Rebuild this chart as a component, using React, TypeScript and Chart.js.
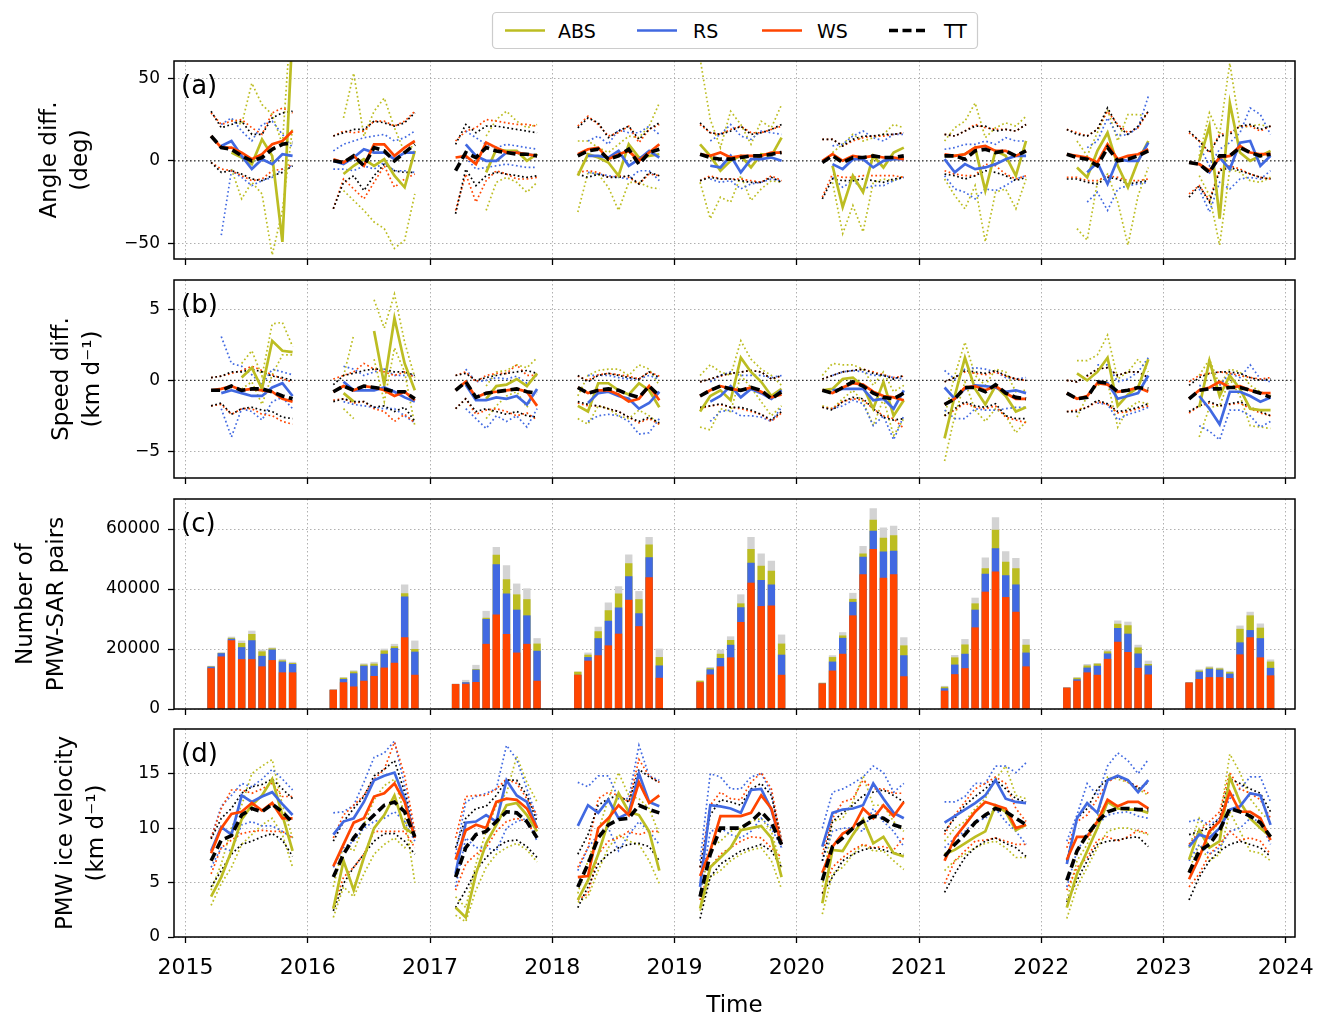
import React, { useEffect, useRef } from 'react';
import { Chart, registerables } from 'chart.js';
Chart.register(...registerables);

const FONT = "'DejaVu Sans', 'Liberation Sans', sans-serif";
const C_ABS = '#bcbd22';
const C_RS = '#4169e1';
const C_WS = '#ff4500';
const C_TT = '#000000';
const C_OTHER = '#d3d3d3';
const GRID = '#b0b0b0';

const YEARS = [2015, 2016, 2017, 2018, 2019, 2020, 2021, 2022, 2023];
const MONTHS = [3, 4, 5, 6, 7, 8, 9, 10, 11];
const X_TICKS = [2015, 2016, 2017, 2018, 2019, 2020, 2021, 2022, 2023, 2024];
const ANGLE_TICKS = [-50, 0, 50];
const SPEED_TICKS = [-5, 0, 5];
const PAIRS_TICKS = [0, 20000, 40000, 60000];
const VEL_TICKS = [0, 5, 10, 15];

type Row = (number | null)[];

// ---------- (a) angle difference (deg) ----------
const angleTT: Row[] = [
  [15, 8, 7, 3, 0, 2, 7, 10, 11],
  [0, -1, 3, -3, 8, 6, 0, 5, 10],
  [-6, 5, 2, 8, 6, 5, 4, 4, 3],
  [3, 6, 7, 1, 3, 7, -2, 5, 7],
  [4, 2, 1, 1, 2, 3, 3, 4, 5],
  [-1, 3, -1, 2, 2, 3, 2, 2, 3],
  [3, 3, 1, 6, 7, 5, 6, 3, 6],
  [4, 2, 1, -3, 8, 0, 1, 3, 6],
  [-1, -2, -7, 3, 3, 8, 5, 3, 4],
];
const angleWS: Row[] = [
  [15, 8, 8, 5, 1, 4, 10, 12, 18],
  [1, -1, 3, -3, 10, 10, 3, 8, 12],
  [2, 3, -2, 11, 8, 5, 5, 4, 3],
  [4, 7, 8, 1, 4, 6, 0, 5, 10],
  [4, 3, 5, 2, 3, 3, 3, 5, 5],
  [0, 4, 0, 3, 2, 3, 2, 2, 1],
  [4, 3, 4, 8, 9, 6, 6, 3, 6],
  [4, 3, 2, -1, 10, 1, 3, 4, 7],
  [-1, -2, -6, 2, 3, 9, 5, 4, 4],
];
const angleRS: Row[] = [
  [null, 9, 12, 3, -5, 1, -2, 4, 3],
  [0, -2, 2, 7, 5, 5, 1, 5, 5],
  [null, 10, 3, 0, 0, 5, 5, 4, 3],
  [null, 3, 3, 2, 6, -3, 1, 6, 2],
  [null, -3, -4, 3, -7, 1, 1, 2, 0],
  [null, -2, -5, 1, 1, -4, 0, 1, 1],
  [1, -7, -2, -5, -4, -2, 1, 3, 3],
  [null, null, -7, -1, -14, 1, 0, 0, 11],
  [null, -2, -7, 2, -5, 11, 12, -3, 3],
];
const angleABS: Row[] = [
  [null, null, 5, 2, -2, 13, 3, -49, 80],
  [null, -8, -3, 1, -3, 1, -9, -16, 6],
  [null, null, null, -7, 7, 6, 6, 0, 4],
  [-9, 4, 2, -1, -9, 10, 2, 3, 4],
  [10, 3, -6, 0, 3, -4, 4, 3, 14],
  [null, -3, -28, -9, -19, 3, -4, 5, 8],
  [3, 3, 4, 8, -18, 6, 3, -9, 12],
  [null, -4, -10, 6, 17, -3, -16, 0, 12],
  [null, 0, 21, -35, 35, 5, 0, 3, 6],
];
const angleTTHi: Row[] = [
  [30, 20, 22, 24, 16, 16, 26, 29, 30],
  [15, 17, 19, 19, 24, 23, 21, 23, 29],
  [10, 22, 17, 21, 21, 20, 19, 18, 17],
  [20, 26, 23, 14, 18, 21, 13, 19, 23],
  [23, 17, 16, 18, 21, 16, 17, 19, 22],
  [13, 13, 9, 13, 15, 15, 16, 16, 17],
  [16, 15, 18, 21, 21, 18, 19, 18, 22],
  [19, 16, 15, 19, 32, 21, 16, 21, 30],
  [18, 12, 5, 15, 16, 21, 22, 19, 21],
];
const angleTTLo: Row[] = [
  [-1, -7, -6, -8, -11, -12, -9, -7, -3],
  [-29, -13, -9, -18, -9, -2, -6, -7, -7],
  [-32, -5, -15, -9, -7, -8, -9, -10, -9],
  [-8, -10, -8, -10, -10, -9, -14, -7, -9],
  [-12, -10, -11, -11, -12, -13, -13, -10, -13],
  [-23, -11, -12, -12, -11, -12, -13, -11, -10],
  [-8, -9, -11, -9, -6, -7, -9, -12, -10],
  [-11, -11, -13, -14, -10, -11, -14, -13, -12],
  [-22, -15, -25, -6, -4, -6, -8, -10, -11],
];
const angleWSHi: Row[] = [
  [29, 22, 24, 25, 20, 16, 29, 32, 29],
  [15, 18, 17, 18, 24, 24, 21, 24, 30],
  [12, 18, 20, 25, 24, 23, 22, 22, 21],
  [21, 27, 22, 15, 17, 21, 11, 19, 22],
  [22, 17, 16, 19, 21, 17, 17, 19, 21],
  [13, 13, 9, 12, 14, 15, 15, 16, 17],
  [16, 15, 18, 22, 20, 19, 19, 18, 22],
  [19, 17, 15, 19, 30, 22, 17, 20, 30],
  [17, 12, 5, 16, 17, 21, 21, 18, 21],
];
const angleWSLo: Row[] = [
  [-1, -5, -6, -9, -12, -11, -6, -5, -2],
  [-29, -11, -17, -23, -13, -3, -16, -11, -8],
  [-30, -8, -25, -12, -6, -8, -11, -11, -10],
  [-7, -6, -7, -10, -9, -10, -14, -8, -9],
  [-12, -9, -11, -11, -11, -12, -13, -9, -12],
  [-22, -8, -10, -10, -9, -9, -9, -9, -10],
  [-6, -8, -9, -9, -2, -3, -8, -11, -9],
  [-10, -10, -12, -12, -9, -10, -12, -12, -11],
  [-20, -15, -24, -5, -3, -5, -8, -10, -11],
];
const angleRSHi: Row[] = [
  [null, 22, 26, 18, 12, 22, 24, 16, 8],
  [6, 10, 12, 14, 15, 16, 12, 14, 18],
  [null, 18, 14, 10, 8, 10, 9, 8, 7],
  [null, 12, 15, 10, 19, 17, 17, 21, 16],
  [null, 12, 16, 22, 15, 13, 18, 17, 16],
  [null, 9, 10, 15, 18, 14, 12, 16, 16],
  [7, 8, 10, 10, 12, 10, 14, 12, 12],
  [null, null, 8, 12, 26, 15, 16, 20, 39],
  [null, 9, -3, 7, 11, 17, 32, 28, 16],
];
const angleRSLo: Row[] = [
  [null, -45, -6, -10, -15, -12, -10, -5, -3],
  [-5, -5, -6, -3, -5, -1, -6, -6, -7],
  [null, 2, -5, -4, -3, -2, -3, -4, -4],
  [null, -7, -8, -9, -10, -11, -6, -6, -12],
  [null, -11, -13, -12, -17, -14, -13, -11, -12],
  [null, -10, -16, -12, -17, -15, -15, -12, -10],
  [-9, -17, -19, -23, -17, -18, -15, -11, -9],
  [null, null, -25, -19, -30, -17, -15, -14, -13],
  [null, -17, -31, -13, -17, -11, -10, -11, -6],
];
const angleABSHi: Row[] = [
  [null, null, 25, 22, 47, 34, 28, 10, 100],
  [null, 26, 53, 15, 30, 38, 20, 5, 10],
  [null, null, null, 15, 25, 30, 24, 20, 22],
  [12, 12, 8, 5, 10, 15, 14, 21, 35],
  [62, 25, 8, 30, 22, 10, 24, 20, 34],
  [null, 5, 10, 16, 12, 14, 16, 22, 20],
  [12, 20, 24, 35, 14, 20, 23, 21, 27],
  [null, 12, 3, 17, 31, 12, 28, 28, 27],
  [null, 3, 29, 16, 59, 20, 21, 22, 20],
];
const angleABSLo: Row[] = [
  [null, null, -5, -23, -13, -20, -57, -30, 20],
  [null, -18, -24, -30, -37, -41, -53, -48, -20],
  [null, null, null, -30, -13, -10, -13, -19, -13],
  [-31, -7, -8, -16, -30, -13, -13, -16, -17],
  [-13, -35, -22, -25, -9, -24, -17, -12, -13],
  [null, -13, -44, -27, -43, -13, -11, -12, -9],
  [-11, -21, -29, -15, -49, -19, -17, -29, -11],
  [null, -41, -48, -13, -8, -25, -51, -21, -4],
  [null, -9, -21, -51, -5, -7, -12, -13, -10],
];

// ---------- (b) speed difference (km/d) ----------
const speedTT: Row[] = [
  [-0.7, -0.7, -0.4, -0.7, -0.6, -0.6, -0.8, -1.1, -1.3],
  [-0.8, -0.4, -0.7, -0.4, -0.5, -0.6, -0.8, -0.8, -1.3],
  [-0.7, -0.1, -1.2, -0.9, -0.8, -0.7, -0.6, -0.8, -0.9],
  [-0.5, -0.9, -0.7, -0.6, -0.7, -1.0, -1.2, -0.4, -1.1],
  [-1.1, -0.7, -0.4, -0.6, -0.7, -0.5, -0.7, -1.3, -0.8],
  [-0.7, -0.9, -0.5, -0.1, -0.4, -0.9, -1.2, -1.3, -0.9],
  [-1.7, -1.3, -0.5, -0.5, -0.8, -0.3, -0.9, -1.2, -1.3],
  [-0.9, -1.3, -1.2, -0.1, -0.2, -0.8, -0.7, -0.5, -0.6],
  [-1.3, -0.7, -0.6, -0.6, -0.5, -0.5, -0.7, -0.9, -1.2],
];
const speedWS: Row[] = [
  [-0.7, -0.6, -0.4, -0.7, -0.6, -0.7, -0.8, -1.3, -1.5],
  [-0.8, -0.4, -0.7, -0.4, -0.5, -0.7, -1.1, -0.8, -1.4],
  [-0.7, -0.1, -1.2, -0.9, -0.8, -0.7, -0.6, -0.8, -1.8],
  [-0.5, -0.9, -0.7, -0.7, -1.0, -1.5, -1.3, -0.4, -1.4],
  [-1.1, -0.7, -0.4, -0.6, -0.7, -0.5, -0.8, -1.2, -1.0],
  [-0.7, -0.9, -0.5, -0.2, -0.3, -0.8, -1.1, -1.2, -1.4],
  [-1.7, -1.3, -0.5, -0.4, -0.7, -0.4, -0.9, -1.3, -1.3],
  [-0.9, -1.3, -1.1, -0.2, -0.3, -0.8, -0.7, -0.5, -0.8],
  [-1.3, -0.7, -0.5, -0.1, -0.5, -0.4, -0.7, -0.9, -0.9],
];
const speedRS: Row[] = [
  [null, -0.9, -0.7, -0.9, -1.1, -1.1, -0.5, -0.2, -1.1],
  [null, -0.1, -0.7, -0.7, -0.7, -0.5, -0.8, -1.2, -1.5],
  [null, -0.3, -1.4, -1.4, -1.2, -1.3, -1.1, -1.7, -0.6],
  [null, -1.6, -0.9, -0.8, -1.1, -1.3, -2.0, -1.6, -0.8],
  [null, -1.5, -1.1, -0.4, -1.2, -0.6, -0.9, -1.3, -0.7],
  [null, -0.7, -0.6, -0.6, -0.6, -1.4, -1.3, -2.0, -0.7],
  [-0.5, -1.3, -0.6, -0.35, -0.4, -0.5, -0.8, -0.7, -0.9],
  [null, null, null, -0.1, -0.2, -1.3, -1.1, -0.9, 0.35],
  [null, -1.1, -2.0, -3.1, -0.8, -0.8, -1.1, -1.5, -1.2],
];
const speedABS: Row[] = [
  [null, null, null, 0.2, 0.9, -0.6, 2.8, 2.1, 2.0],
  [null, -0.9, -1.5, null, 3.5, -0.3, 4.4, 1.2, -0.7],
  [null, null, null, -1.3, -0.4, -0.3, 0.1, -0.4, 0.5],
  [-1.8, -2.2, -0.2, -0.2, -0.7, -1.0, -0.2, -0.7, -1.9],
  [-2.2, -1.1, -0.7, -1.4, 1.6, 0.6, -0.1, -1.1, -0.6],
  [-0.7, -0.6, 0.1, 0.2, -0.4, -2.0, -0.1, -2.5, -1.4],
  [-4.1, -1.1, 1.6, -0.6, -1.7, -0.4, -1.1, -2.2, -1.9],
  [null, 0.5, 0, 0.6, 1.6, -1.8, -1.0, -0.5, 1.5],
  [null, -1.9, 1.4, -1.1, 0.35, -0.6, -2.0, -2.1, -2.1],
];
const speedTTHi: Row[] = [
  [0.2, 0.3, 0.6, 0.6, 0.8, 0.6, 0.3, 0.2, 0],
  [-0.3, 0.35, 0.5, 0.7, 0.8, 0.8, 0.6, 0.6, 0.35],
  [0.35, 0.5, 0, 0.2, 0.35, 0.5, 0.6, 0.7, 0.5],
  [0.35, -0.1, 0.35, 0.5, 0.35, 0.2, 0.1, 0.6, 0.2],
  [-0.1, 0.1, 0.35, 0.5, 0.6, 0.7, 0.6, 0.1, 0.35],
  [0.1, 0.35, 0.6, 0.7, 0.8, 0.5, 0.35, 0.1, 0.35],
  [-0.1, 0.2, 0.7, 0.6, 0.5, 0.7, 0.35, 0.1, 0],
  [0, -0.1, 0.35, 0.8, 0.9, 0.35, 0.6, 0.6, 0.2],
  [-0.35, 0.2, 0.5, 0.6, 0.6, 0.5, 0.2, 0, 0.1],
];
const speedTTLo: Row[] = [
  [-1.8, -1.6, -2.4, -2.0, -1.9, -2.1, -2.2, -2.6, -2.7],
  [-1.5, -1.3, -1.5, -1.5, -1.9, -1.8, -2.2, -1.9, -2.9],
  [-2.0, -1.3, -2.2, -2.0, -2.2, -2.4, -2.2, -2.5, -2.6],
  [-1.5, -1.7, -1.8, -2.0, -2.2, -2.6, -2.9, -2.6, -3.0],
  [-1.9, -1.8, -1.65, -1.9, -1.9, -2.1, -2.4, -2.8, -2.2],
  [-1.9, -2.1, -1.5, -1.2, -1.3, -2.0, -2.6, -2.8, -2.7],
  [-2.5, -2.0, -1.5, -1.8, -1.9, -1.65, -2.5, -2.7, -2.7],
  [-2.2, -2.2, -1.9, -1.4, -1.65, -2.2, -2.1, -1.9, -1.65],
  [-2.2, -1.8, -1.5, -1.8, -1.65, -1.5, -1.9, -2.2, -2.5],
];
const speedWSHi: Row[] = [
  [0.2, 0.3, 0.5, 0.7, 1.0, 0.7, 0.4, 0.1, -0.1],
  [0.1, 0.35, 0.6, 1.2, 0.8, 0.6, 0.35, 0.6, 0.2],
  [0.35, 0.6, -0.1, 0.35, 0.5, 0.5, 1.1, 0.35, 0.35],
  [0.3, 0, 0.4, 0.5, 0.4, 0.3, 0.1, 0.6, 0.3],
  [-0.1, 0.1, 0.3, 0.5, 0.6, 0.7, 0.6, 0.1, 0.3],
  [0.1, 0.35, 0.6, 0.7, 0.8, 0.6, 0.4, 0.2, 0.3],
  [-0.1, 0.2, 0.6, 0.5, 0.4, 0.6, 0.3, 0.1, 0],
  [0, -0.1, 0.3, 0.8, 0.9, 0.35, 0.6, 0.6, 0.2],
  [-0.1, 0.35, 0.5, 0.6, 0.5, 0.35, 0.2, 0.1, 0.2],
];
const speedWSLo: Row[] = [
  [-1.8, -1.7, -2.4, -2.0, -2.0, -2.4, -2.5, -2.9, -3.1],
  [-1.4, -1.3, -1.6, -1.5, -2.0, -2.2, -2.9, -2.4, -3.0],
  [-2.0, -1.3, -2.4, -2.1, -2.0, -2.2, -2.5, -2.3, -2.8],
  [-1.6, -1.8, -1.8, -2.0, -2.2, -2.6, -3.0, -2.7, -3.1],
  [-2.0, -1.8, -1.7, -1.9, -2.0, -2.2, -2.4, -2.9, -2.3],
  [-1.9, -2.0, -1.5, -1.3, -1.4, -2.0, -2.5, -2.7, -3.4],
  [-2.5, -2.1, -1.6, -1.9, -2.0, -1.8, -2.6, -2.8, -3.0],
  [-2.2, -2.1, -1.9, -1.5, -1.7, -2.3, -2.2, -2.0, -1.8],
  [-2.3, -1.8, -1.6, -1.8, -1.7, -1.6, -2.0, -2.3, -2.5],
];
const speedRSHi: Row[] = [
  [null, 3.1, 1.2, 1.0, 0.4, -0.3, 0.8, 0.6, 0.4],
  [null, 1.0, 0.8, 0.35, 0.6, 0.8, 0.35, 0.35, 0.35],
  [null, 0.8, -0.1, 0.0, 0.2, 0.1, 0.3, -0.2, 0.4],
  [null, 0.35, 0.35, 0.35, 0.2, 0.1, 0.1, 0.35, 0.1],
  [null, -0.1, 0.35, 0.6, 0.35, 0.35, 0.35, 0.2, 0.35],
  [null, 0.35, 0.6, 0.7, 0.6, 0.35, 0.35, 0.2, 0.1],
  [0.7, 0.1, 0.8, 0.9, 0.8, 0.6, 0.2, 0.1, 0.2],
  [null, null, null, 1.1, 1.1, -0.1, 0.1, 0.6, 1.6],
  [null, -0.35, -0.6, -0.35, 0.5, 0.2, 1.1, 0.1, -0.1],
];
const speedRSLo: Row[] = [
  [null, -2.0, -4.0, -2.0, -2.2, -2.8, -1.5, -1.2, -2.0],
  [null, -1.5, -1.7, -1.8, -1.9, -2.0, -2.0, -2.5, -3.0],
  [null, -2.0, -2.7, -3.4, -2.5, -2.9, -2.5, -3.3, -2.0],
  [null, -2.9, -2.5, -2.4, -2.5, -2.9, -3.8, -3.7, -2.7],
  [null, -2.9, -2.2, -2.1, -2.5, -2.5, -2.6, -2.9, -1.9],
  [null, -2.0, -1.8, -1.4, -1.65, -3.2, -2.5, -4.2, -2.5],
  [-2.1, -2.7, -2.7, -2.0, -2.1, -2.1, -2.0, -1.9, -1.9],
  [null, null, null, -1.6, -1.7, -2.8, -2.4, -2.2, -1.9],
  [null, -3.2, -3.6, -4.2, -2.1, -2.1, -2.5, -3.3, -2.9],
];
const speedABSHi: Row[] = [
  [null, null, null, 1.2, 2.1, 0.3, 4.0, 4.1, 2.4],
  [null, 0.3, 3.2, null, 5.7, 3.7, 6.1, 2.7, 0.2],
  [null, null, null, -0.4, 0.6, 0.7, 1.1, 0.9, 1.6],
  [-1.1, 0.35, 0.7, 0.8, 0.8, 0.35, 1.1, 0.8, -0.35],
  [0.35, 1.1, 0.6, 0.35, 2.8, 1.5, 0.8, 0.35, -0.35],
  [0.35, 1.2, 1.1, 1.1, 0.8, -0.35, 0.6, -0.8, -0.35],
  [-2.5, 0.35, 2.7, 0.35, -0.35, 0.8, 0.6, -0.8, -0.7],
  [null, 1.4, 1.4, 1.8, 3.2, 0.1, 0.6, 1.5, 0.6],
  [null, 0.35, 1.5, -0.35, 0.8, 0.6, -0.35, -0.8, -1.1],
];
const speedABSLo: Row[] = [
  [null, null, null, -0.6, -0.1, -1.7, 0.4, 1.8, 1.8],
  [null, -2.0, -2.7, null, 1.5, -1.5, 2.3, 0.6, -3.2],
  [null, null, null, -2.7, -1.8, -1.1, -0.8, -1.9, -0.6],
  [-2.7, -3.1, -1.8, -2.0, -2.5, -2.7, -2.1, -2.5, -3.1],
  [-3.3, -3.5, -2.0, -2.2, 0.35, -0.5, -1.5, -2.5, -1.8],
  [-1.8, -2.0, -1.3, -0.7, -1.5, -3.2, -1.3, -3.9, -2.7],
  [-5.7, -2.5, -0.1, -2.1, -2.9, -2.0, -2.5, -3.7, -2.9],
  [null, -2.6, -1.1, -0.35, -0.1, -3.3, -2.0, -1.5, -1.65],
  [null, -4.0, -1.9, -1.8, 0.1, -1.1, -3.2, -3.3, -3.4],
];

// ---------- (c) number of PMW-SAR pairs (cumulative stack tops) ----------
const pairsTopWS: Row[] = [
  [13500, 17400, 22800, 16500, 16500, 14100, 16200, 12100, 12100],
  [6300, 8800, 7400, 9300, 10900, 13700, 15300, 23800, 11300],
  [8200, 8300, 8900, 21600, 31400, 24900, 18700, 21600, 9300],
  [11300, 16000, 17800, 21100, 25000, 36300, 27500, 43800, 10300],
  [8800, 11400, 14100, 17100, 28900, 42000, 34200, 34400, 11300],
  [8400, 12700, 18300, 31100, 44800, 53200, 43600, 44800, 10800],
  [6000, 11500, 13500, 27100, 39000, 45700, 37200, 32300, 14100],
  [7000, 9300, 12100, 11300, 16600, 22300, 18900, 13600, 11400],
  [8700, 9900, 10500, 10500, 10200, 18100, 23800, 17100, 11100],
];
const pairsTopRS: Row[] = [
  [14000, 18500, 23300, 20500, 22800, 17600, 19700, 15700, 14900],
  [6300, 9900, 11800, 14300, 14300, 18300, 20200, 37400, 19000],
  [8200, 8800, 13000, 29900, 48100, 38400, 33000, 31100, 19300],
  [11300, 17200, 23500, 29300, 33700, 44100, 31800, 50500, 14400],
  [8800, 13100, 16900, 21300, 33800, 48600, 42900, 41400, 18000],
  [8400, 15700, 23600, 35600, 50600, 59300, 52400, 52600, 17800],
  [6800, 14700, 18300, 33000, 45000, 53500, 44500, 41400, 18700],
  [7000, 9800, 13700, 14300, 18400, 26900, 25000, 18400, 14400],
  [8700, 12300, 13300, 13000, 11700, 22100, 26200, 23500, 13600],
];
const pairsTopABS: Row[] = [
  [14100, 18600, 23600, 21900, 24900, 19100, 20100, 16100, 15200],
  [6300, 10300, 12400, 14700, 15000, 19400, 20800, 38500, 19900],
  [8200, 8800, 13200, 30300, 51300, 43100, 38100, 36500, 21700],
  [12300, 18000, 25800, 32800, 38400, 48500, 36500, 54700, 17200],
  [9300, 13500, 18300, 22900, 35100, 53200, 47600, 46000, 21700],
  [8600, 17200, 24400, 36600, 51700, 63000, 57000, 57800, 21100],
  [7300, 17100, 21400, 35100, 46800, 59600, 49000, 46800, 21300],
  [7000, 10300, 14400, 15000, 19100, 28300, 27800, 20400, 14900],
  [8700, 12700, 13700, 13400, 12200, 26600, 31100, 27000, 15700],
];
const pairsTopAll: Row[] = [
  [14300, 18800, 24000, 22700, 26000, 19700, 20400, 16600, 15600],
  [6400, 10500, 12800, 15100, 15600, 20000, 21600, 41400, 22700],
  [8400, 9600, 14600, 32600, 53900, 47800, 41700, 40100, 23500],
  [12400, 18700, 27300, 35400, 40800, 51400, 39200, 57200, 20000],
  [9400, 13900, 19700, 24100, 38100, 57200, 51700, 49300, 24700],
  [8700, 17800, 25500, 38600, 54200, 66800, 60400, 61000, 23800],
  [7600, 17900, 23200, 37000, 50400, 63800, 52500, 50200, 23200],
  [7100, 10500, 14900, 15200, 19700, 29400, 29000, 21300, 16000],
  [8800, 13100, 14100, 13700, 12600, 27700, 32300, 28400, 16400],
];

// ---------- (d) PMW ice velocity (km/d) ----------
const velTT: Row[] = [
  [7.0, 8.9, 9.3, 11.2, 11.8, 11.5, 12.2, 11.5, 10.5],
  [5.5, 7.6, 9.1, 10.3, 11.2, 12.1, 12.4, 11.5, 9.2],
  [5.5, 8.2, 9.4, 9.7, 10.6, 11.5, 11.4, 10.6, 9.1],
  [4.6, 6.7, 9.1, 10.3, 10.8, 10.9, 12.1, 11.7, 11.4],
  [3.7, 7.6, 10.0, 10.0, 10.0, 10.6, 11.5, 10.5, 8.5],
  [5.2, 8.3, 9.1, 10.0, 10.6, 11.1, 10.9, 10.3, 10.0],
  [7.4, 8.5, 9.4, 10.5, 11.2, 11.8, 11.5, 10.9, 10.3],
  [5.2, 7.9, 9.4, 10.6, 11.5, 11.8, 11.8, 11.7, 11.7],
  [5.9, 7.9, 8.5, 9.8, 11.8, 11.5, 11.1, 10.5, 9.2],
];
const velWS: Row[] = [
  [7.7, 10.0, 11.3, 11.5, 12.3, 11.6, 12.3, 10.9, 10.9],
  [6.5, 8.5, 10.5, 10.9, 12.9, 13.2, 14.1, 12.4, 9.1],
  [7.1, 9.8, 10.3, 10.0, 12.4, 12.7, 12.6, 11.8, 10.0],
  [5.5, 5.6, 10.0, 10.9, 12.1, 11.2, 14.2, 12.3, 13.0],
  [5.6, 7.9, 11.1, 11.1, 11.1, 11.4, 13.0, 11.8, 8.5],
  [5.9, 8.3, 9.5, 10.0, 11.8, 10.9, 12.1, 11.1, 12.4],
  [7.0, 9.1, 10.3, 11.5, 12.4, 12.1, 11.8, 10.0, 10.3],
  [7.1, 9.2, 9.2, 10.6, 12.6, 12.0, 12.4, 12.4, 11.8],
  [5.3, 7.3, 9.7, 10.6, 13.3, 11.5, 11.5, 10.9, 8.9],
];
const velRS: Row[] = [
  [7.9, 10.1, 9.4, 13.0, 12.4, 12.9, 13.3, 12.2, 11.2],
  [9.4, 10.6, 10.9, 12.4, 14.4, 14.8, 15.1, 12.7, 9.1],
  [5.8, 10.5, 10.6, 11.2, 10.6, 14.4, 13.0, 12.4, 10.0],
  [10.2, 12.1, 11.4, 12.6, 10.9, 11.4, 15.0, 12.4, 12.0],
  [4.6, 12.1, 12.0, 11.8, 11.4, 13.5, 13.6, 11.7, 8.5],
  [8.3, 11.4, 11.7, 11.8, 12.1, 14.1, 12.7, 11.4, 10.9],
  [10.5, 11.1, 11.7, 12.3, 13.0, 14.4, 12.7, 12.4, 12.3],
  [6.7, 10.9, 12.3, 11.4, 14.4, 14.8, 14.4, 13.3, 14.4],
  [8.3, 9.4, 9.1, 10.0, 11.7, 12.0, 13.2, 13.0, 10.3],
];
const velABS: Row[] = [
  [3.7, 5.5, 7.9, 10.8, 12.1, 13.0, 14.5, 11.2, 7.9],
  [2.6, 7.0, 4.3, 7.3, 10.0, 11.2, 13.0, 10.0, 9.4],
  [2.7, 1.8, 5.8, 8.6, 10.3, 12.1, 12.3, 11.2, 9.7],
  [3.4, 5.2, 7.6, 10.6, 13.2, 11.5, 11.2, 9.7, 6.1],
  [2.6, 6.4, 7.3, 8.2, 9.8, 10.0, 10.2, 9.1, 5.5],
  [3.1, 8.0, 7.9, 9.4, 10.8, 8.6, 9.2, 7.7, 7.4],
  [7.6, 8.0, 8.6, 9.2, 9.7, 12.1, 11.5, 9.8, 10.3],
  [2.7, 5.8, 7.9, 10.0, 12.4, 11.8, 11.7, 11.7, 11.4],
  [7.1, 9.8, 8.2, 8.8, 14.7, 12.4, 10.9, 10.0, 9.2],
];
const velTTHi: Row[] = [
  [9.0, 10.9, 11.8, 13.2, 13.8, 14.0, 14.5, 13.6, 12.7],
  [8.8, 10.6, 11.8, 12.9, 14.8, 15.4, 16.2, 13.3, 9.1],
  [8.2, 10.9, 11.8, 12.0, 13.0, 14.4, 14.4, 13.0, 10.6],
  [7.6, 9.4, 12.1, 12.7, 13.0, 12.4, 15.4, 14.7, 14.2],
  [6.4, 11.2, 12.6, 12.4, 12.1, 13.6, 14.1, 13.0, 8.8],
  [7.0, 10.6, 11.4, 12.1, 13.0, 13.3, 13.5, 13.0, 12.4],
  [9.7, 10.9, 12.1, 12.9, 13.6, 14.5, 13.6, 12.7, 12.4],
  [7.0, 10.9, 11.8, 13.6, 14.5, 14.7, 14.4, 13.6, 14.2],
  [9.4, 9.7, 10.0, 10.9, 14.5, 14.1, 13.6, 13.2, 11.5],
];
const velTTLo: Row[] = [
  [4.6, 6.1, 7.6, 8.5, 8.8, 9.2, 9.5, 8.9, 7.4],
  [2.4, 4.9, 6.4, 7.6, 8.8, 9.5, 9.5, 8.8, 7.6],
  [2.7, 4.3, 6.1, 7.3, 8.2, 8.8, 8.9, 8.3, 7.3],
  [2.7, 4.6, 6.7, 7.6, 8.2, 8.5, 8.6, 8.3, 7.0],
  [1.7, 5.5, 6.7, 7.3, 7.9, 8.2, 8.5, 7.9, 6.4],
  [4.0, 5.5, 7.0, 7.6, 8.0, 8.2, 8.0, 7.7, 7.6],
  [4.1, 5.8, 7.3, 8.2, 8.8, 9.1, 8.6, 8.2, 7.4],
  [3.2, 5.2, 7.0, 8.5, 8.8, 8.9, 9.1, 9.2, 8.3],
  [3.4, 5.5, 7.0, 7.9, 8.5, 8.8, 8.5, 8.2, 7.4],
];
const velWSHi: Row[] = [
  [9.1, 11.8, 13.5, 13.5, 13.2, 13.6, 14.1, 12.9, 12.9],
  [9.1, 11.2, 12.1, 13.0, 14.5, 15.4, 17.9, 14.8, 9.7],
  [9.1, 12.9, 13.0, 13.0, 13.6, 14.5, 14.1, 12.7, 11.2],
  [6.4, 8.2, 12.7, 13.3, 13.0, 12.4, 16.3, 14.8, 14.2],
  [6.4, 12.1, 13.3, 12.7, 12.6, 14.2, 15.1, 13.6, 8.8],
  [7.6, 10.9, 12.4, 12.7, 14.4, 13.6, 13.6, 13.2, 13.2],
  [9.4, 11.2, 12.4, 13.6, 14.1, 14.7, 14.1, 11.8, 10.6],
  [8.2, 10.6, 11.2, 12.7, 14.2, 14.8, 14.2, 13.8, 13.2],
  [8.5, 9.7, 10.6, 11.5, 15.1, 13.6, 13.2, 12.6, 10.9],
];
const velWSLo: Row[] = [
  [5.8, 8.2, 8.9, 9.5, 9.7, 9.8, 9.7, 9.7, 9.1],
  [2.7, 5.5, 6.4, 7.6, 9.7, 9.7, 9.7, 9.7, 8.2],
  [4.3, 6.7, 7.6, 8.2, 9.7, 10.6, 10.9, 10.6, 9.1],
  [3.4, 4.0, 7.6, 8.8, 9.1, 9.7, 9.4, 9.7, 9.7],
  [3.4, 6.4, 7.6, 8.2, 8.8, 9.2, 9.1, 8.2, 7.3],
  [4.0, 6.4, 7.3, 8.0, 8.5, 8.2, 8.3, 8.0, 9.1],
  [4.9, 7.0, 7.9, 8.8, 8.9, 9.1, 8.8, 8.5, 8.5],
  [4.3, 6.4, 7.3, 8.9, 9.2, 8.8, 9.2, 9.8, 9.5],
  [4.6, 5.8, 7.6, 8.5, 9.7, 8.9, 9.1, 8.8, 7.6],
];
const velRSHi: Row[] = [
  [9.1, 12.0, 13.0, 14.1, 13.8, 14.5, 15.4, 14.5, 13.5],
  [11.4, 11.5, 12.1, 14.2, 16.5, 16.9, 18.0, 13.9, 9.4],
  [7.6, 12.4, 12.9, 13.2, 13.6, 17.6, 16.3, 13.6, 10.9],
  [14.2, 13.8, 14.8, 14.8, 12.7, 12.7, 17.6, 14.8, 14.4],
  [7.0, 15.0, 14.7, 13.6, 13.6, 14.7, 15.0, 13.3, 8.2],
  [10.0, 13.3, 13.6, 14.1, 14.7, 15.7, 15.1, 13.3, 14.1],
  [12.4, 12.4, 12.9, 14.1, 14.1, 15.7, 15.7, 15.1, 16.0],
  [8.8, 11.2, 14.1, 13.0, 15.7, 16.9, 16.2, 15.0, 16.3],
  [10.6, 10.8, 10.3, 10.9, 12.7, 13.6, 14.7, 14.7, 12.4],
];
const velRSLo: Row[] = [
  [6.4, 8.2, 7.9, 10.3, 10.6, 10.2, 10.2, 9.7, 9.1],
  [6.4, 8.2, 8.8, 10.0, 10.6, 10.9, 11.5, 10.6, 8.8],
  [4.6, 9.1, 8.2, 8.2, 7.9, 10.0, 10.6, 10.9, 8.8],
  [6.1, 8.2, 9.4, 10.0, 7.9, 9.4, 10.6, 9.7, 8.5],
  [4.0, 9.7, 10.0, 9.4, 9.1, 9.7, 10.9, 10.0, 8.2],
  [7.0, 9.7, 10.0, 10.0, 9.7, 11.8, 10.6, 9.7, 8.3],
  [8.2, 9.1, 9.7, 10.6, 10.9, 11.8, 10.6, 9.7, 8.5],
  [4.6, 7.9, 9.4, 10.3, 11.2, 11.4, 11.5, 11.1, 10.9],
  [7.0, 8.5, 7.6, 8.2, 9.7, 10.0, 10.9, 10.6, 8.5],
];
const velABSHi: Row[] = [
  [4.3, 6.7, 10.0, 12.1, 15.0, 15.7, 16.3, 12.1, 9.1],
  [4.6, 8.5, 7.9, 10.3, 12.6, 13.9, 14.5, 11.2, 5.0],
  [3.7, 2.7, 6.7, 9.7, 12.1, 13.2, 16.6, 14.2, 12.4],
  [4.0, 7.0, 9.7, 12.7, 15.1, 13.0, 12.7, 11.8, 9.4],
  [4.0, 8.2, 8.8, 9.7, 10.0, 10.6, 10.9, 9.7, 6.4],
  [4.6, 10.6, 10.9, 12.4, 14.8, 12.1, 12.1, 10.6, 9.7],
  [8.8, 10.0, 10.6, 11.8, 12.7, 14.5, 15.7, 13.0, 12.7],
  [3.4, 7.0, 8.5, 10.9, 14.7, 14.5, 14.2, 13.6, 13.0],
  [8.2, 10.9, 9.4, 10.6, 16.8, 15.1, 12.7, 11.5, 10.6],
];
const velABSLo: Row[] = [
  [2.9, 4.9, 6.4, 8.5, 9.4, 10.3, 10.9, 9.4, 6.4],
  [1.8, 4.6, 3.7, 5.8, 7.6, 8.5, 9.1, 8.2, 8.9],
  [2.0, 1.4, 4.3, 6.4, 7.6, 8.2, 8.6, 8.0, 6.9],
  [3.2, 3.7, 6.1, 8.2, 9.4, 8.8, 8.5, 7.0, 4.9],
  [2.4, 5.5, 6.1, 7.0, 7.6, 8.0, 8.2, 7.0, 4.4],
  [2.1, 5.8, 6.4, 7.6, 8.5, 7.9, 7.9, 7.0, 6.2],
  [6.1, 7.0, 7.6, 8.2, 8.6, 8.8, 8.2, 7.3, 7.3],
  [1.7, 4.6, 6.4, 8.2, 9.7, 10.0, 10.0, 9.7, 9.4],
  [6.1, 8.5, 7.0, 7.6, 11.5, 9.7, 7.9, 7.7, 7.0],
];

// ---------- helpers ----------
const X_MIN = 2014.905;
const X_MAX = 2024.075;
const CANVAS_W = 1320;
const PLOT_LEFT = 174;
const PAD_RIGHT = 25;
const YTICK_SIZE = 17;
const XTICK_SIZE = 22;
const LABEL_SIZE = 23;
const LABEL_LH = 1.35;

function toPoints(rows: Row[], withBreaks = true) {
  const pts: { x: number; y: number | null }[] = [];
  rows.forEach((row, yi) => {
    row.forEach((v, mi) => pts.push({ x: YEARS[yi] + (MONTHS[mi] - 0.5) / 12, y: v }));
    if (withBreaks) pts.push({ x: YEARS[yi] + 0.96, y: null });
  });
  return pts;
}

function solid(label: string, rows: Row[], color: string, dashed = false) {
  return {
    type: 'line' as const,
    label,
    data: toPoints(rows),
    borderColor: color,
    backgroundColor: color,
    borderWidth: dashed ? 3.6 : 2.7,
    borderDash: dashed ? [9, 4.5] : [],
    pointRadius: 0,
    fill: false,
    tension: 0,
    spanGaps: false,
  };
}
function dotted(rows: Row[], color: string) {
  return {
    type: 'line' as const,
    label: '',
    data: toPoints(rows),
    borderColor: color,
    backgroundColor: color,
    borderWidth: 1.7,
    borderDash: [1.7, 2.6],
    pointRadius: 0,
    fill: false,
    tension: 0,
    spanGaps: false,
  };
}

const minusFmt = (v: number) => (v < 0 ? '\u2212' + Math.abs(v) : String(v));

function makeX(showLabels: boolean) {
  return {
    type: 'linear' as const,
    min: X_MIN,
    max: X_MAX,
    offset: false,
    afterBuildTicks: (s: any) => {
      s.ticks = X_TICKS.map((v) => ({ value: v }));
    },
    afterFit: (s: any) => {
      s.height = showLabels ? 76 : 10;
      s.paddingLeft = 0;
      s.paddingRight = 0;
      s.paddingTop = 0;
      s.paddingBottom = 0;
    },
    grid: {
      color: GRID,
      lineWidth: 1,
      drawTicks: true,
      tickLength: 6,
      tickColor: '#000',
      tickWidth: 1.3,
      offset: false,
    },
    border: { display: false, dash: [1.5, 2.5] },
    ticks: {
      display: showLabels,
      color: '#000',
      font: { family: FONT, size: XTICK_SIZE },
      padding: 12,
      maxRotation: 0,
      autoSkip: false,
      callback: (v: any) => String(v),
    },
    title: {
      display: showLabels,
      text: 'Time',
      color: '#000',
      font: { family: FONT, size: LABEL_SIZE, lineHeight: 1.2 },
      padding: { top: 0, bottom: -6.8 },
    },
  };
}

function makeY(min: number, max: number, tickVals: number[], title: string[], titleCenter: number) {
  const lh = LABEL_SIZE * LABEL_LH;
  return {
    type: 'linear' as const,
    min,
    max,
    afterBuildTicks: (s: any) => {
      s.ticks = tickVals.map((v) => ({ value: v }));
    },
    afterFit: (s: any) => {
      s.width = PLOT_LEFT;
      s.paddingLeft = 0;
      s.paddingRight = 0;
      s.paddingTop = 0;
      s.paddingBottom = 0;
    },
    grid: {
      color: GRID,
      lineWidth: 1,
      drawTicks: true,
      tickLength: 6,
      tickColor: '#000',
      tickWidth: 1.3,
    },
    border: { display: false, dash: [1.5, 2.5] },
    ticks: {
      color: '#000',
      font: { family: FONT, size: YTICK_SIZE },
      padding: 8,
      callback: (v: any) => minusFmt(Number(v)),
    },
    title: {
      display: true,
      text: title,
      color: '#000',
      font: { family: FONT, size: LABEL_SIZE, lineHeight: LABEL_LH },
      padding: { top: titleCenter - lh / 2, bottom: 0 },
    },
  };
}

function decoPlugin(label: string, zeroLine: boolean) {
  return {
    id: 'deco',
    beforeDatasetsDraw(chart: any) {
      if (!zeroLine) return;
      const { ctx, chartArea } = chart;
      const y = chart.scales.y.getPixelForValue(0);
      ctx.save();
      ctx.strokeStyle = '#333';
      ctx.lineWidth = 1.4;
      ctx.setLineDash([1.5, 2.5]);
      ctx.beginPath();
      ctx.moveTo(chartArea.left, y);
      ctx.lineTo(chartArea.right, y);
      ctx.stroke();
      ctx.restore();
    },
    afterDraw(chart: any) {
      const { ctx, chartArea } = chart;
      ctx.save();
      ctx.strokeStyle = '#000';
      ctx.lineWidth = 1.5;
      ctx.setLineDash([]);
      ctx.strokeRect(chartArea.left, chartArea.top, chartArea.right - chartArea.left, chartArea.bottom - chartArea.top);
      ctx.fillStyle = '#000';
      ctx.font = `26px ${FONT}`;
      ctx.textBaseline = 'middle';
      ctx.textAlign = 'left';
      ctx.fillText(label, chartArea.left + 7, chartArea.top + 26);
      ctx.restore();
    },
  };
}

function lineDatasets(
  tt: Row[], ws: Row[], rs: Row[], abs: Row[],
  ttHi: Row[], ttLo: Row[], wsHi: Row[], wsLo: Row[],
  rsHi: Row[], rsLo: Row[], absHi: Row[], absLo: Row[],
) {
  return [
    solid('TT', tt, C_TT, true),
    solid('WS', ws, C_WS),
    solid('RS', rs, C_RS),
    solid('ABS', abs, C_ABS),
    dotted(ttHi, C_TT),
    dotted(ttLo, C_TT),
    dotted(wsHi, C_WS),
    dotted(wsLo, C_WS),
    dotted(rsHi, C_RS),
    dotted(rsLo, C_RS),
    dotted(absHi, C_ABS),
    dotted(absLo, C_ABS),
  ];
}

function barDataset(rows: Row[], color: string) {
  return {
    type: 'bar' as const,
    label: '',
    data: toPoints(rows, false),
    backgroundColor: color,
    borderWidth: 0,
    barThickness: 6.7,
    grouped: false,
  };
}

function baseOptions(padTop: number, scales: any) {
  return {
    responsive: false,
    maintainAspectRatio: false,
    animation: false as const,
    devicePixelRatio: 1,
    layout: { padding: { top: padTop, right: PAD_RIGHT, bottom: 0, left: 0 } },
    plugins: { legend: { display: false }, tooltip: { enabled: false } },
    events: [] as any[],
    scales,
  };
}

const PANELS = [
  {
    key: 'a',
    top: 52,
    height: 217,
    config: () => ({
      type: 'line',
      data: {
        datasets: lineDatasets(angleTT, angleWS, angleRS, angleABS, angleTTHi, angleTTLo, angleWSHi, angleWSLo, angleRSHi, angleRSLo, angleABSHi, angleABSLo),
      },
      options: baseOptions(9, { x: makeX(false), y: makeY(-59.4, 60.4, ANGLE_TICKS, ['Angle diff.', '(deg)'], 50) }),
      plugins: [decoPlugin('(a)', true)],
    }),
  },
  {
    key: 'b',
    top: 271,
    height: 217,
    config: () => ({
      type: 'line',
      data: {
        datasets: lineDatasets(speedTT, speedWS, speedRS, speedABS, speedTTHi, speedTTLo, speedWSHi, speedWSLo, speedRSHi, speedRSLo, speedABSHi, speedABSLo),
      },
      options: baseOptions(9, { x: makeX(false), y: makeY(-6.9, 7.1, SPEED_TICKS, ['Speed diff.', '(km d\u207B\u00B9)'], 62) }),
      plugins: [decoPlugin('(b)', true)],
    }),
  },
  {
    key: 'c',
    top: 490,
    height: 229,
    config: () => ({
      type: 'bar',
      data: {
        datasets: [
          barDataset(pairsTopWS, C_WS),
          barDataset(pairsTopRS, C_RS),
          barDataset(pairsTopABS, C_ABS),
          barDataset(pairsTopAll, C_OTHER),
        ],
      },
      options: baseOptions(9, {
        x: { ...makeX(false), stacked: true },
        y: { ...makeY(0, 70000, PAIRS_TICKS, ['Number of', 'PMW-SAR pairs'], 26), stacked: false },
      }),
      plugins: [decoPlugin('(c)', false)],
    }),
  },
  {
    key: 'd',
    top: 720,
    height: 293,
    config: () => ({
      type: 'line',
      data: {
        datasets: lineDatasets(velTT, velWS, velRS, velABS, velTTHi, velTTLo, velWSHi, velWSLo, velRSHi, velRSLo, velABSHi, velABSLo),
      },
      options: baseOptions(9, { x: makeX(true), y: makeY(0, 19.1, VEL_TICKS, ['PMW ice velocity', '(km d\u207B\u00B9)'], 66) }),
      plugins: [decoPlugin('(d)', false)],
    }),
  },
];

function Panel({ top, height, config }: { top: number; height: number; config: () => any }) {
  const ref = useRef<HTMLCanvasElement>(null);
  useEffect(() => {
    if (!ref.current) return;
    const chart = new Chart(ref.current, config());
    return () => chart.destroy();
  }, []);
  return (
    <canvas
      ref={ref}
      width={CANVAS_W}
      height={height}
      style={{ position: 'absolute', left: 0, top, width: CANVAS_W, height }}
    />
  );
}

const LEGEND_ITEMS = [
  { label: 'ABS', color: C_ABS, x: 505, tx: 558, dashed: false },
  { label: 'RS', color: C_RS, x: 637, tx: 693, dashed: false },
  { label: 'WS', color: C_WS, x: 762, tx: 817, dashed: false },
  { label: 'TT', color: C_TT, x: 889, tx: 944, dashed: true },
];

function Legend() {
  return (
    <svg width={CANVAS_W} height={60} style={{ position: 'absolute', left: 0, top: 0 }}>
      <rect x={492.5} y={12.5} width={485} height={36} rx={4} ry={4} fill="#ffffff" stroke="#cccccc" strokeWidth={1.2} />
      {LEGEND_ITEMS.map((it) => (
        <g key={it.label}>
          <line
            x1={it.x}
            x2={it.x + 40}
            y1={30.5}
            y2={30.5}
            stroke={it.color}
            strokeWidth={it.dashed ? 3.6 : 2.7}
            strokeDasharray={it.dashed ? '9 4.5' : undefined}
          />
          <text x={it.tx} y={31} dominantBaseline="central" fontFamily={FONT} fontSize={19} fill="#000">
            {it.label}
          </text>
        </g>
      ))}
    </svg>
  );
}

export default function App() {
  return (
    <div
      style={{
        position: 'absolute',
        left: 0,
        top: 0,
        width: CANVAS_W,
        height: 1013,
        overflow: 'hidden',
        background: '#ffffff',
        fontFamily: FONT,
      }}
    >
      <Legend />
      {PANELS.map((p) => (
        <Panel key={p.key} top={p.top} height={p.height} config={p.config} />
      ))}
    </div>
  );
}
